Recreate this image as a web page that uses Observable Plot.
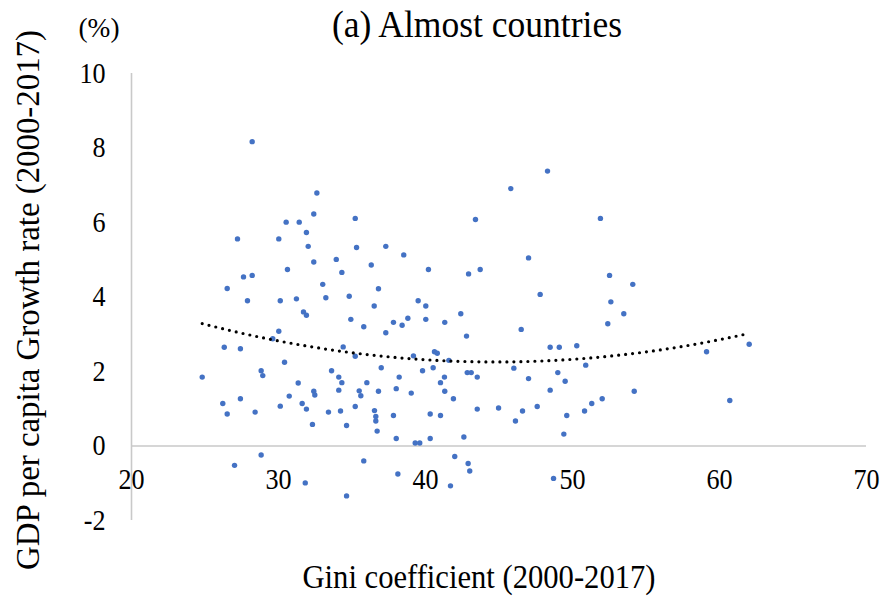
<!DOCTYPE html>
<html>
<head>
<meta charset="utf-8">
<script src="https://cdn.jsdelivr.net/npm/d3@7"></script>
<script src="https://cdn.jsdelivr.net/npm/@observablehq/plot@0.6"></script>
<style>
  body { margin: 0; background: #ffffff; }
  #chart svg { display: block; }
</style>
</head>
<body>
<div id="chart"></div>
<script>
// ---- Data ----
const gini = [
  28.21, 32.61, 32.40, 30.52, 31.41, 31.90, 27.21, 30.02, 32.02, 32.40,
  30.61, 27.62, 28.21, 26.51, 27.89, 30.12, 31.22, 31.70, 31.90, 30.02,
  29.61, 26.31, 27.41, 30.41, 28.82, 28.93, 24.81, 31.34, 32.40, 32.47,
  30.73, 26.21, 27.41, 30.12, 31.61, 31.90, 26.51, 28.41, 32.31, 28.82,
  27.01, 33.01, 33.22, 35.22, 33.93, 35.31, 34.31, 37.30, 36.31, 38.52,
  36.80, 34.81, 36.51, 34.92, 35.80, 37.82, 38.41, 38.80, 39.50, 40.02,
  40.20, 40.02, 41.31, 42.40, 42.93, 43.72, 43.40, 37.30, 42.79, 34.40,
  35.22, 39.18, 40.61, 40.80, 41.59, 33.61, 34.10, 34.31, 36.99, 38.21,
  36.01, 39.80, 40.52, 41.29, 41.02, 42.84, 43.11, 43.52, 34.10, 35.49,
  35.60, 36.80, 38.01, 39.03, 41.31, 41.90, 33.40, 34.22, 35.22, 36.53,
  36.62, 36.62, 36.71, 37.82, 40.32, 41.02, 43.52, 44.97, 34.63, 38.01,
  39.30, 39.61, 40.32, 42.61, 35.80, 41.99, 42.90, 43.01, 31.82, 38.12,
  41.70, 34.63, 48.30, 45.80, 51.90, 47.01, 52.52, 54.10, 47.80, 52.61,
  53.49, 52.40, 46.51, 48.48, 49.10, 50.29, 46.01, 49.00, 50.90, 47.01,
  49.50, 48.48, 54.20, 46.60, 47.60, 46.12, 49.61, 50.82, 51.31, 52.02,
  49.41, 48.71, 59.12, 62.02, 60.70
];
const growth = [
  8.17, 6.79, 6.23, 6.01, 6.01, 5.73, 5.56, 5.56, 5.36, 4.94,
  4.74, 4.54, 4.58, 4.23, 3.90, 3.90, 3.95, 3.60, 3.51, 3.08,
  2.88, 2.65, 2.61, 2.25, 2.02, 1.89, 1.85, 1.69, 1.47, 1.37,
  1.34, 1.14, 1.27, 1.07, 1.14, 0.99, 0.86, 0.91, 0.58, -0.24,
  -0.52, 4.34, 3.98, 6.11, 5.01, 5.33, 4.66, 5.36, 4.86, 5.13,
  4.22, 4.02, 3.76, 3.40, 3.20, 3.32, 3.24, 3.43, 3.90, 3.76,
  4.74, 3.40, 3.32, 3.55, 4.62, 4.74, 6.08, 3.04, 2.95, 2.66,
  2.41, 2.42, 2.53, 2.49, 2.30, 2.02, 1.85, 1.70, 2.10, 1.85,
  1.70, 2.02, 2.10, 1.85, 1.70, 1.97, 1.97, 1.85, 1.50, 1.48,
  1.35, 1.47, 1.54, 1.42, 1.47, 1.27, 0.91, 0.94, 1.06, 0.95,
  0.79, 0.67, 0.40, 0.82, 0.86, 0.82, 0.99, 1.02, 0.55, 0.20,
  0.08, 0.08, 0.20, 0.24, -0.40, -0.28, -0.47, -0.67, -0.99, -0.75,
  -1.07, -1.34, 7.38, 6.91, 6.11, 5.05, 4.58, 4.34, 4.07, 3.87,
  3.55, 3.28, 3.13, 2.65, 2.65, 2.69, 2.09, 1.97, 2.17, 1.81,
  1.74, 1.50, 1.47, 0.94, 1.06, 0.67, 0.82, 0.94, 1.14, 1.27,
  0.32, -0.87, 2.53, 2.73, 1.22
];
const xTicks = [20, 30, 40, 50, 60, 70];
const yTicks = [-2, 0, 2, 4, 6, 8, 10];
const yTickLabels = ["-2", "0", "2", "4", "6", "8", "10"];
const xTickLabels = ["20", "30", "40", "50", "60", "70"];
const titleText = "(a) Almost countries";
const unitText = "(%)";
const xTitle = "Gini coefficient (2000-2017)";
const yTitle = "GDP per capita Growth rate (2000-2017)";

// ---- Build table ----
const points = gini.map((g, i) => ({x: g, y: growth[i]}));

// Polynomial (order 2) least-squares trendline, as in the spreadsheet chart
function quadFit(xs, ys) {
  const n = xs.length;
  const mx = d3.mean(xs);
  let S = [0, 0, 0, 0, 0], T = [0, 0, 0];
  for (let i = 0; i < n; i++) {
    const u = xs[i] - mx;
    let p = 1;
    for (let k = 0; k < 5; k++) { S[k] += p; if (k < 3) T[k] += p * ys[i]; p *= u; }
  }
  const A = [[S[0], S[1], S[2], T[0]], [S[1], S[2], S[3], T[1]], [S[2], S[3], S[4], T[2]]];
  for (let c = 0; c < 3; c++) {
    for (let r = c + 1; r < 3; r++) {
      const f = A[r][c] / A[c][c];
      for (let k = c; k < 4; k++) A[r][k] -= f * A[c][k];
    }
  }
  const b = [0, 0, 0];
  for (let r = 2; r >= 0; r--) {
    let s = A[r][3];
    for (let k = r + 1; k < 3; k++) s -= A[r][k] * b[k];
    b[r] = s / A[r][r];
  }
  return x => { const u = x - mx; return b[0] + b[1] * u + b[2] * u * u; };
}
const fit = quadFit(gini, growth);
const [x0, x1] = d3.extent(gini);
const trend = d3.range(0, 201).map(i => { const x = x0 + (x1 - x0) * i / 200; return {x, y: fit(x)}; });

const FONT = "'Liberation Serif', 'Times New Roman', Times, serif";
const AXIS_GRAY = "#C9C9C9";

const chart = Plot.plot({
  width: 881,
  height: 599,
  marginLeft: 131,
  marginRight: 15,
  marginTop: 73,
  marginBottom: 79,
  x: {domain: [20, 70], axis: null},
  y: {domain: [-2, 10], axis: null},
  style: {fontFamily: FONT, background: "#ffffff", color: "#000"},
  marks: [
    Plot.ruleY([0], {stroke: AXIS_GRAY, strokeWidth: 1.6}),
    Plot.ruleX([20], {stroke: AXIS_GRAY, strokeWidth: 1.6}),
    Plot.dot(points, {x: "x", y: "y", r: 2.7, fill: "#4472C4", stroke: "none"}),
    Plot.line(trend, {x: "x", y: "y", stroke: "#000", strokeWidth: 3.2,
      strokeDasharray: "0 7", strokeLinecap: "round", curve: "linear"}),
    Plot.text(xTicks, {x: d => d, y: 0, dy: 34, text: (d, i) => xTickLabels[i],
      fontSize: 29, fill: "#000", textAnchor: "middle", className: "tick"}),
    Plot.text(yTicks, {x: 20, y: d => d, dx: -26, text: (d, i) => yTickLabels[i],
      fontSize: 29, fill: "#000", textAnchor: "end", className: "tick"})
  ]
});

document.getElementById("chart").appendChild(chart);

// ---- Titles ----
const svg = d3.select(chart);
function addText(txt, x, y, size, width, opts = {}) {
  const t = svg.append("text")
    .attr("x", x).attr("y", y)
    .attr("text-anchor", opts.anchor || "middle")
    .attr("font-family", FONT)
    .attr("font-size", size)
    .attr("fill", "#000")
    .text(txt);
  if (opts.rotate) t.attr("transform", `rotate(-90 ${x} ${y})`);
  if (width) t.attr("textLength", width).attr("lengthAdjust", "spacingAndGlyphs");
  return t;
}
addText(titleText, 477, 37, 38, 290);
addText(unitText, 99, 37, 28, 41);
addText(xTitle, 479, 588, 34, 353);
addText(yTitle, 39, 300, 33, 540, {rotate: true});

// Slightly condense tick labels (the reference glyphs are narrow)
svg.selectAll("g.tick text, .tick text").each(function () {
  const L = this.getComputedTextLength();
  this.setAttribute("textLength", L * 0.9);
  this.setAttribute("lengthAdjust", "spacingAndGlyphs");
});
</script>
</body>
</html>
